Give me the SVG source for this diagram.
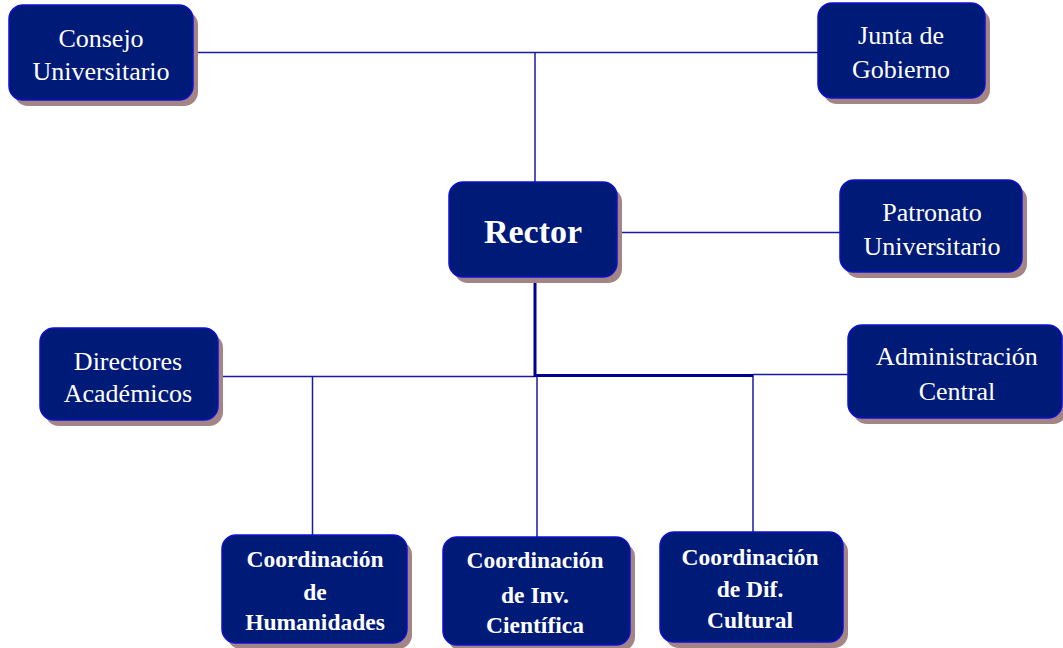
<svg xmlns="http://www.w3.org/2000/svg" width="1063" height="648" viewBox="0 0 1063 648">
<style>
.shadow{fill:#a38585;}
.box{fill:#001a78;stroke:#1010d0;stroke-width:1.5;}
.t{fill:#ffffff;font-family:"Liberation Serif","Times New Roman",serif;font-size:26px;text-anchor:middle;}
.tb{fill:#ffffff;font-family:"Liberation Serif","Times New Roman",serif;font-size:23.5px;font-weight:bold;text-anchor:middle;}
.thin{stroke:#1a1aa0;stroke-width:1.5;fill:none;}
.thick{stroke:#000090;stroke-width:3;fill:none;}
</style>
<rect width="1063" height="648" fill="#ffffff"/>
<g id="connectors">
<line class="thin" x1="193" y1="52.5" x2="818" y2="52.5"/>
<line class="thin" x1="535" y1="52.5" x2="535" y2="182"/>
<line class="thin" x1="617" y1="232.5" x2="840" y2="232.5"/>
<line class="thin" x1="218" y1="376.5" x2="535" y2="376.5"/>
<line class="thin" x1="753" y1="374.5" x2="848" y2="374.5"/>
<line class="thin" x1="312.5" y1="376.5" x2="312.5" y2="535"/>
<line class="thin" x1="537" y1="376.5" x2="537" y2="537"/>
<line class="thin" x1="753" y1="375" x2="753" y2="532"/>
<polyline class="thick" points="535,277 535,375.5 753,375.5"/>
</g>
<g id="consejo">
<rect class="shadow" x="14" y="11" width="184" height="95" rx="14"/>
<rect class="box" x="9" y="5" width="184" height="95" rx="14"/>
<text class="t" x="101" y="47">Consejo</text>
<text class="t" x="101" y="80">Universitario</text>
</g>
<g id="junta">
<rect class="shadow" x="823" y="9" width="167" height="95" rx="14"/>
<rect class="box" x="818" y="3" width="167" height="95" rx="14"/>
<text class="t" x="901" y="44">Junta de</text>
<text class="t" x="901" y="78">Gobierno</text>
</g>
<g id="rector">
<rect class="shadow" x="454" y="188" width="168" height="95" rx="14"/>
<rect class="box" x="449" y="182" width="168" height="95" rx="14"/>
<text class="t" x="533" y="243" style="font-size:34px;font-weight:bold">Rector</text>
</g>
<g id="patronato">
<rect class="shadow" x="845" y="186" width="182" height="92" rx="14"/>
<rect class="box" x="840" y="180" width="182" height="92" rx="14"/>
<text class="t" x="932" y="221">Patronato</text>
<text class="t" x="932" y="255">Universitario</text>
</g>
<g id="directores">
<rect class="shadow" x="45" y="334" width="178" height="92" rx="14"/>
<rect class="box" x="40" y="328" width="178" height="92" rx="14"/>
<text class="t" x="128" y="370">Directores</text>
<text class="t" x="128" y="402">Académicos</text>
</g>
<g id="administracion">
<rect class="shadow" x="853" y="331" width="214" height="93" rx="14"/>
<rect class="box" x="848" y="325" width="214" height="93" rx="14"/>
<text class="t" x="957" y="365">Administración</text>
<text class="t" x="957" y="400">Central</text>
</g>
<g id="humanidades">
<rect class="shadow" x="227" y="541" width="185" height="108" rx="14"/>
<rect class="box" x="222" y="535" width="185" height="108" rx="14"/>
<text class="tb" x="315" y="567">Coordinación</text>
<text class="tb" x="315" y="600">de</text>
<text class="tb" x="315" y="630">Humanidades</text>
</g>
<g id="cientifica">
<rect class="shadow" x="448" y="543" width="187" height="108" rx="14"/>
<rect class="box" x="443" y="537" width="187" height="108" rx="14"/>
<text class="tb" x="535" y="568">Coordinación</text>
<text class="tb" x="535" y="603">de Inv.</text>
<text class="tb" x="535" y="633">Científica</text>
</g>
<g id="cultural">
<rect class="shadow" x="665" y="538" width="183" height="110" rx="14"/>
<rect class="box" x="660" y="532" width="183" height="110" rx="14"/>
<text class="tb" x="750" y="565">Coordinación</text>
<text class="tb" x="750" y="597">de Dif.</text>
<text class="tb" x="750" y="628">Cultural</text>
</g>
</svg>
